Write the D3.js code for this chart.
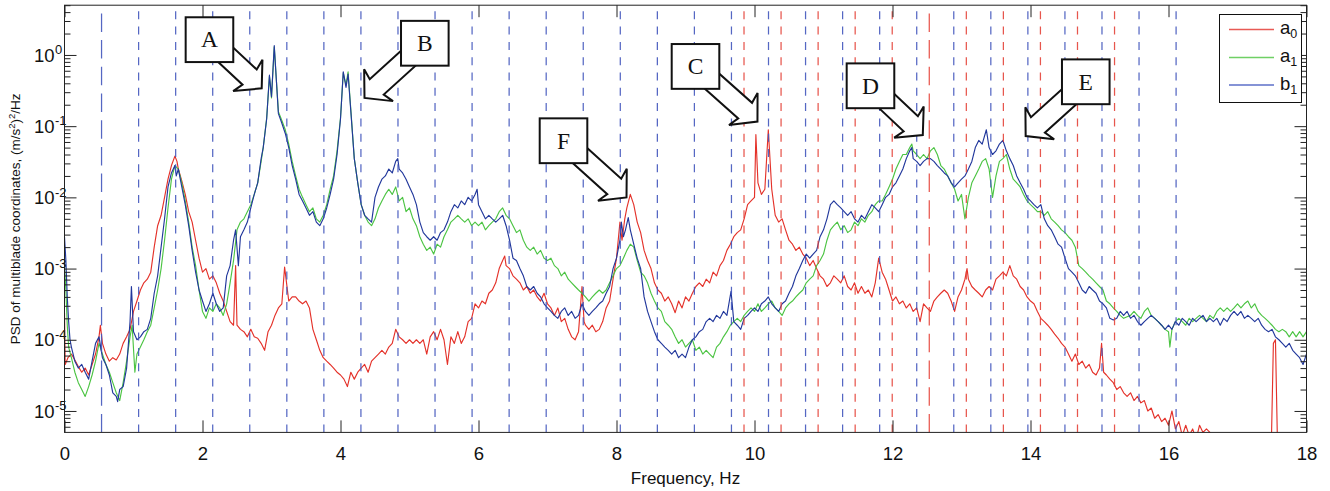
<!DOCTYPE html>
<html>
<head>
<meta charset="utf-8">
<script src="https://cdn.jsdelivr.net/npm/d3@7"></script>
<style>
  body { margin: 0; background: #fff; }
  svg text { fill: #111; }
</style>
</head>
<body>
<svg id="chart" width="1330" height="491"></svg>
<script>
// PSD of the multiblade coordinates: [frequency (Hz), PSD ((m/s^2)^2/Hz)]
const a0Points = [[0,2.4e-4],[0.01,4.5e-5],[0.05,5.6e-5],[0.1,6.3e-5],[0.15,5.2e-5],[0.2,4.2e-5],[0.25,3.5e-5],[0.3,4.0e-5],[0.35,3.2e-5],[0.4,4.5e-5],[0.45,6.3e-5],[0.5,1.1e-4],[0.52,1.6e-4],[0.55,8.9e-5],[0.6,6.3e-5],[0.65,5.0e-5],[0.7,5.6e-5],[0.75,5.2e-5],[0.8,6.3e-5],[0.85,8.9e-5],[0.9,1.1e-4],[0.95,1.4e-4],[1.0,2.5e-4],[1.05,3.5e-4],[1.1,5.0e-4],[1.15,6.3e-4],[1.2,7.1e-4],[1.25,8.9e-4],[1.3,2.0e-3],[1.35,4.0e-3],[1.4,5.6e-3],[1.45,1.0e-2],[1.5,1.8e-2],[1.55,2.8e-2],[1.6,3.8e-2],[1.63,3.2e-2],[1.65,2.5e-2],[1.7,1.7e-2],[1.75,1.1e-2],[1.8,6.3e-3],[1.85,4.5e-3],[1.9,2.5e-3],[1.95,1.4e-3],[2.0,8.9e-4],[2.05,1.0e-3],[2.1,7.1e-4],[2.15,7.9e-4],[2.2,6.3e-4],[2.25,4.5e-4],[2.3,3.5e-4],[2.35,2.5e-4],[2.4,1.8e-4],[2.45,1.6e-4],[2.48,1.1e-3],[2.5,1.6e-4],[2.55,1.4e-4],[2.6,1.3e-4],[2.65,1.1e-4],[2.7,1.4e-4],[2.75,1.1e-4],[2.8,1.05e-4],[2.85,8.9e-5],[2.9,7.1e-5],[2.95,1.3e-4],[3.0,1.6e-4],[3.05,2.2e-4],[3.1,2.8e-4],[3.15,3.2e-4],[3.19,1.05e-3],[3.25,3.5e-4],[3.3,4.0e-4],[3.35,4.0e-4],[3.4,3.5e-4],[3.45,3.2e-4],[3.5,3.5e-4],[3.55,2.8e-4],[3.6,1.4e-4],[3.65,1.0e-4],[3.7,7.1e-5],[3.75,5.6e-5],[3.8,5.0e-5],[3.85,4.5e-5],[3.9,4.0e-5],[3.95,3.5e-5],[4.0,3.2e-5],[4.05,2.8e-5],[4.1,2.2e-5],[4.15,3.5e-5],[4.2,2.8e-5],[4.25,3.5e-5],[4.3,4.0e-5],[4.35,4.5e-5],[4.4,3.5e-5],[4.45,5.0e-5],[4.5,5.6e-5],[4.55,6.3e-5],[4.6,7.1e-5],[4.65,6.3e-5],[4.7,7.9e-5],[4.75,8.9e-5],[4.8,1.4e-4],[4.85,1.1e-4],[4.9,1.0e-4],[4.95,8.9e-5],[5.0,1.0e-4],[5.05,8.9e-5],[5.1,1.0e-4],[5.15,8.9e-5],[5.2,1.0e-4],[5.25,6.3e-5],[5.3,1.1e-4],[5.35,1.3e-4],[5.4,1.0e-4],[5.45,1.4e-4],[5.5,1.0e-4],[5.55,4.5e-5],[5.6,1.1e-4],[5.65,8.9e-5],[5.7,1.3e-4],[5.75,8.9e-5],[5.8,1.1e-4],[5.85,1.8e-4],[5.9,2.0e-4],[5.95,3.2e-4],[6.0,2.8e-4],[6.05,3.5e-4],[6.1,3.2e-4],[6.15,4.5e-4],[6.2,5.0e-4],[6.25,6.3e-4],[6.3,1.0e-3],[6.35,1.3e-3],[6.38,1.5e-3],[6.4,1.1e-3],[6.45,1.0e-3],[6.5,7.9e-4],[6.55,7.1e-4],[6.6,6.3e-4],[6.65,5.0e-4],[6.7,5.6e-4],[6.75,4.5e-4],[6.8,5.0e-4],[6.85,4.0e-4],[6.9,3.5e-4],[6.95,4.5e-4],[7.0,3.2e-4],[7.05,2.8e-4],[7.1,2.2e-4],[7.15,2.8e-4],[7.2,1.8e-4],[7.25,2.0e-4],[7.3,1.4e-4],[7.35,1.1e-4],[7.4,1.0e-4],[7.45,1.3e-4],[7.5,5.6e-4],[7.53,1.8e-4],[7.55,1.6e-4],[7.6,1.4e-4],[7.65,1.6e-4],[7.7,1.3e-4],[7.75,1.4e-4],[7.8,1.8e-4],[7.85,2.8e-4],[7.9,3.5e-4],[7.95,7.1e-4],[8.0,1.4e-3],[8.05,4.5e-3],[8.08,2.5e-3],[8.12,5.0e-3],[8.15,7.1e-3],[8.2,1.1e-2],[8.25,7.9e-3],[8.3,4.5e-3],[8.35,3.2e-3],[8.4,1.8e-3],[8.45,1.3e-3],[8.5,1.0e-3],[8.55,6.3e-4],[8.6,5.0e-4],[8.65,4.5e-4],[8.7,3.5e-4],[8.75,4.0e-4],[8.8,3.2e-4],[8.85,2.4e-4],[8.9,3.5e-4],[8.95,2.8e-4],[9.0,4.0e-4],[9.05,3.5e-4],[9.1,4.5e-4],[9.15,5.6e-4],[9.2,6.3e-4],[9.25,5.6e-4],[9.3,7.1e-4],[9.35,6.3e-4],[9.4,8.9e-4],[9.45,7.9e-4],[9.5,1.1e-3],[9.55,1.3e-3],[9.6,1.8e-3],[9.65,2.2e-3],[9.7,2.8e-3],[9.75,3.2e-3],[9.8,3.5e-3],[9.85,5.0e-3],[9.9,7.9e-3],[9.95,8.9e-3],[10.0,1.0e-2],[10.02,7.6e-2],[10.05,1.6e-2],[10.1,1.1e-2],[10.15,1.3e-2],[10.2,8.9e-2],[10.25,1.3e-2],[10.3,5.6e-3],[10.35,4.5e-3],[10.4,5.0e-3],[10.45,3.5e-3],[10.5,2.5e-3],[10.55,2.2e-3],[10.6,1.8e-3],[10.65,2.0e-3],[10.7,1.6e-3],[10.75,1.4e-3],[10.8,1.1e-3],[10.85,1.3e-3],[10.9,1.0e-3],[10.95,7.9e-4],[11.0,7.1e-4],[11.05,5.6e-4],[11.1,6.3e-4],[11.15,7.9e-4],[11.2,7.1e-4],[11.25,6.3e-4],[11.3,7.9e-4],[11.35,5.6e-4],[11.4,5.0e-4],[11.45,6.3e-4],[11.5,4.5e-4],[11.55,5.6e-4],[11.6,4.5e-4],[11.65,5.0e-4],[11.7,4.0e-4],[11.75,6.3e-4],[11.8,1.4e-3],[11.85,8.9e-4],[11.9,7.1e-4],[11.95,5.0e-4],[12.0,3.5e-4],[12.05,4.0e-4],[12.1,3.2e-4],[12.15,3.5e-4],[12.2,2.8e-4],[12.25,3.2e-4],[12.3,2.5e-4],[12.35,2.8e-4],[12.4,1.8e-4],[12.45,3.2e-4],[12.5,2.8e-4],[12.55,2.5e-4],[12.6,3.5e-4],[12.65,4.0e-4],[12.7,4.5e-4],[12.75,5.0e-4],[12.8,4.5e-4],[12.85,3.5e-4],[12.9,2.5e-4],[12.95,4.0e-4],[13.0,5.0e-4],[13.05,7.1e-4],[13.08,1.0e-3],[13.1,7.1e-4],[13.15,5.6e-4],[13.2,5.0e-4],[13.25,4.5e-4],[13.3,4.0e-4],[13.35,5.0e-4],[13.4,5.6e-4],[13.45,5.0e-4],[13.5,7.1e-4],[13.55,7.9e-4],[13.6,8.9e-4],[13.65,7.9e-4],[13.7,1.1e-3],[13.75,7.9e-4],[13.8,7.1e-4],[13.85,5.6e-4],[13.9,5.0e-4],[13.95,4.0e-4],[14.0,3.5e-4],[14.05,3.2e-4],[14.1,2.5e-4],[14.15,2.0e-4],[14.2,1.8e-4],[14.25,1.6e-4],[14.3,1.4e-4],[14.35,1.2e-4],[14.4,1.05e-4],[14.45,8.9e-5],[14.5,7.9e-5],[14.55,6.3e-5],[14.6,5.0e-5],[14.65,6.3e-5],[14.7,4.5e-5],[14.75,5.0e-5],[14.8,4.0e-5],[14.85,4.5e-5],[14.9,3.5e-5],[14.95,3.2e-5],[15.0,4.0e-5],[15.03,8.9e-5],[15.06,3.5e-5],[15.1,3.2e-5],[15.15,2.8e-5],[15.2,2.5e-5],[15.25,2.0e-5],[15.3,2.2e-5],[15.35,1.8e-5],[15.4,1.6e-5],[15.45,1.8e-5],[15.5,1.4e-5],[15.55,1.6e-5],[15.6,1.3e-5],[15.65,1.4e-5],[15.7,1.0e-5],[15.75,1.1e-5],[15.8,7.9e-6],[15.85,8.9e-6],[15.9,7.1e-6],[15.95,7.9e-6],[16.0,6.3e-6],[16.05,1.0e-5],[16.1,5.6e-6],[16.15,7.1e-6],[16.2,4.5e-6],[16.25,6.3e-6],[16.3,4.5e-6],[16.35,5.6e-6],[16.4,4.0e-6],[16.45,6.3e-6],[16.5,5.0e-6],[16.55,5.6e-6],[16.6,5.0e-6],[16.65,4.0e-6],[16.7,2.5e-6],[17.0,2.0e-6],[17.3,2.5e-6],[17.49,3.2e-6],[17.52,8.9e-5],[17.55,1.0e-4],[17.58,3.2e-6],[18.0,2.0e-6]];

const a1Points = [[0,1.1e-3],[0.02,5.0e-4],[0.04,1.6e-4],[0.06,7.9e-5],[0.1,5.6e-5],[0.15,3.5e-5],[0.2,2.5e-5],[0.25,2.0e-5],[0.3,1.6e-5],[0.35,2.2e-5],[0.4,3.2e-5],[0.45,5.0e-5],[0.5,8.9e-5],[0.55,6.3e-5],[0.6,4.5e-5],[0.65,3.5e-5],[0.7,2.5e-5],[0.75,1.8e-5],[0.8,1.4e-5],[0.85,2.5e-5],[0.9,5.0e-5],[0.95,1.1e-4],[0.98,1.6e-4],[1.02,3.5e-5],[1.05,6.3e-5],[1.1,7.9e-5],[1.15,1.0e-4],[1.2,1.3e-4],[1.25,1.6e-4],[1.3,2.8e-4],[1.35,5.0e-4],[1.4,1.0e-3],[1.45,2.5e-3],[1.5,7.1e-3],[1.55,1.8e-2],[1.6,2.8e-2],[1.65,2.5e-2],[1.7,1.6e-2],[1.75,8.9e-3],[1.8,4.5e-3],[1.85,2.0e-3],[1.9,1.1e-3],[1.95,5.0e-4],[2.0,2.5e-4],[2.05,2.0e-4],[2.1,2.8e-4],[2.15,2.5e-4],[2.2,3.2e-4],[2.25,2.8e-4],[2.3,2.2e-4],[2.35,3.2e-4],[2.4,6.3e-4],[2.45,1.3e-3],[2.5,3.5e-3],[2.55,4.5e-3],[2.6,5.0e-3],[2.65,6.3e-3],[2.7,7.9e-3],[2.75,1.1e-2],[2.8,1.6e-2],[2.85,3.2e-2],[2.88,5.0e-2],[2.93,0.13],[2.97,0.5],[3.0,0.25],[3.04,1.3],[3.07,0.45],[3.1,0.16],[3.15,0.12],[3.2,8.9e-2],[3.25,5.6e-2],[3.3,3.2e-2],[3.35,2.0e-2],[3.4,1.3e-2],[3.45,1.0e-2],[3.5,7.9e-3],[3.55,6.3e-3],[3.6,7.1e-3],[3.65,5.0e-3],[3.7,4.5e-3],[3.75,5.6e-3],[3.8,7.9e-3],[3.85,1.3e-2],[3.9,2.0e-2],[3.95,4.5e-2],[4.0,0.13],[4.04,0.56],[4.08,0.38],[4.11,0.58],[4.15,0.17],[4.2,3.5e-2],[4.25,1.6e-2],[4.3,7.9e-3],[4.35,5.6e-3],[4.4,4.5e-3],[4.45,4.0e-3],[4.5,5.0e-3],[4.55,7.1e-3],[4.6,8.9e-3],[4.65,1.1e-2],[4.7,1.3e-2],[4.75,1.1e-2],[4.8,1.4e-2],[4.85,8.9e-3],[4.9,1.0e-2],[4.95,6.3e-3],[5.0,7.1e-3],[5.05,5.0e-3],[5.1,4.0e-3],[5.15,2.8e-3],[5.2,2.2e-3],[5.25,1.8e-3],[5.3,2.0e-3],[5.35,1.6e-3],[5.4,2.2e-3],[5.45,2.0e-3],[5.5,2.8e-3],[5.55,3.5e-3],[5.6,4.5e-3],[5.65,5.0e-3],[5.7,5.6e-3],[5.75,5.0e-3],[5.8,4.5e-3],[5.85,5.0e-3],[5.9,4.0e-3],[5.95,4.5e-3],[6.0,4.0e-3],[6.05,4.5e-3],[6.1,3.5e-3],[6.15,4.0e-3],[6.2,4.5e-3],[6.25,5.0e-3],[6.3,6.3e-3],[6.35,7.1e-3],[6.4,5.6e-3],[6.45,5.0e-3],[6.5,4.0e-3],[6.55,3.2e-3],[6.6,3.5e-3],[6.65,2.5e-3],[6.7,2.0e-3],[6.75,1.8e-3],[6.8,2.0e-3],[6.85,1.6e-3],[6.9,1.8e-3],[6.95,1.4e-3],[7.0,1.3e-3],[7.05,1.4e-3],[7.1,1.1e-3],[7.15,1.0e-3],[7.2,7.9e-4],[7.25,8.9e-4],[7.3,7.1e-4],[7.35,6.3e-4],[7.4,5.6e-4],[7.45,5.0e-4],[7.5,4.5e-4],[7.55,4.0e-4],[7.6,3.5e-4],[7.65,4.0e-4],[7.7,4.5e-4],[7.75,5.0e-4],[7.8,4.5e-4],[7.85,5.0e-4],[7.9,6.3e-4],[7.95,7.9e-4],[8.0,1.0e-3],[8.05,1.1e-3],[8.1,1.4e-3],[8.15,1.8e-3],[8.2,2.2e-3],[8.25,2.0e-3],[8.3,1.3e-3],[8.35,8.9e-4],[8.4,7.9e-4],[8.45,6.3e-4],[8.5,4.5e-4],[8.55,3.5e-4],[8.6,2.8e-4],[8.65,2.5e-4],[8.7,1.8e-4],[8.75,1.6e-4],[8.8,1.4e-4],[8.85,1.1e-4],[8.9,8.9e-5],[8.95,1.0e-4],[9.0,7.9e-5],[9.05,8.9e-5],[9.1,1.0e-4],[9.15,7.1e-5],[9.2,7.9e-5],[9.25,6.3e-5],[9.3,7.1e-5],[9.35,6.3e-5],[9.4,5.6e-5],[9.45,7.9e-5],[9.5,8.9e-5],[9.55,1.1e-4],[9.6,1.3e-4],[9.65,1.6e-4],[9.7,1.8e-4],[9.75,2.0e-4],[9.8,1.8e-4],[9.85,2.2e-4],[9.9,2.5e-4],[9.95,2.8e-4],[10.0,2.5e-4],[10.05,3.2e-4],[10.1,2.5e-4],[10.15,2.8e-4],[10.2,3.2e-4],[10.25,3.5e-4],[10.3,2.8e-4],[10.35,2.5e-4],[10.4,2.2e-4],[10.45,2.8e-4],[10.5,3.2e-4],[10.55,3.5e-4],[10.6,4.0e-4],[10.65,4.5e-4],[10.7,5.0e-4],[10.75,6.3e-4],[10.8,7.1e-4],[10.85,7.9e-4],[10.9,1.1e-3],[10.95,1.3e-3],[11.0,1.6e-3],[11.05,2.5e-3],[11.1,3.5e-3],[11.15,4.0e-3],[11.2,4.5e-3],[11.25,3.5e-3],[11.3,4.0e-3],[11.35,3.2e-3],[11.4,3.5e-3],[11.45,4.5e-3],[11.5,4.0e-3],[11.55,5.0e-3],[11.6,4.5e-3],[11.65,5.6e-3],[11.7,6.3e-3],[11.75,7.9e-3],[11.8,8.9e-3],[11.85,8.9e-3],[11.9,1.1e-2],[11.95,1.4e-2],[12.0,1.8e-2],[12.05,2.5e-2],[12.1,3.2e-2],[12.15,4.0e-2],[12.2,4.0e-2],[12.25,5.0e-2],[12.28,5.6e-2],[12.3,4.5e-2],[12.35,4.0e-2],[12.4,3.5e-2],[12.45,4.0e-2],[12.5,3.5e-2],[12.55,4.5e-2],[12.6,5.0e-2],[12.65,4.0e-2],[12.7,2.8e-2],[12.75,2.5e-2],[12.8,2.0e-2],[12.85,1.6e-2],[12.9,1.3e-2],[12.95,8.9e-3],[13.0,1.1e-2],[13.05,5.0e-3],[13.1,1.0e-2],[13.15,1.6e-2],[13.2,2.0e-2],[13.25,2.5e-2],[13.3,3.2e-2],[13.35,3.5e-2],[13.4,2.5e-2],[13.45,1.0e-2],[13.5,2.0e-2],[13.55,3.2e-2],[13.6,3.5e-2],[13.65,4.0e-2],[13.7,2.5e-2],[13.75,1.8e-2],[13.8,1.6e-2],[13.85,1.4e-2],[13.9,1.1e-2],[13.95,8.9e-3],[14.0,7.9e-3],[14.05,7.1e-3],[14.1,6.3e-3],[14.15,6.3e-3],[14.2,5.6e-3],[14.25,6.3e-3],[14.3,5.0e-3],[14.35,4.5e-3],[14.4,4.0e-3],[14.45,3.5e-3],[14.5,3.2e-3],[14.55,2.8e-3],[14.6,2.5e-3],[14.65,2.0e-3],[14.7,1.1e-3],[14.75,1.0e-3],[14.8,8.9e-4],[14.85,7.9e-4],[14.9,7.1e-4],[14.95,6.3e-4],[15.0,5.6e-4],[15.05,5.0e-4],[15.1,3.5e-4],[15.15,3.2e-4],[15.2,2.8e-4],[15.25,2.5e-4],[15.3,2.2e-4],[15.35,2.0e-4],[15.4,2.1e-4],[15.45,2.2e-4],[15.5,2.5e-4],[15.55,2.2e-4],[15.6,2.0e-4],[15.65,2.5e-4],[15.7,2.8e-4],[15.75,2.2e-4],[15.8,2.0e-4],[15.85,1.8e-4],[15.9,1.6e-4],[15.95,1.4e-4],[16.0,1.3e-4],[16.02,7.9e-5],[16.05,1.4e-4],[16.1,1.8e-4],[16.15,2.0e-4],[16.2,1.8e-4],[16.25,1.6e-4],[16.3,2.0e-4],[16.35,1.8e-4],[16.4,2.0e-4],[16.45,2.2e-4],[16.5,2.0e-4],[16.55,1.8e-4],[16.6,2.2e-4],[16.65,2.0e-4],[16.7,2.5e-4],[16.75,2.8e-4],[16.8,2.5e-4],[16.85,2.8e-4],[16.9,2.5e-4],[16.95,2.8e-4],[17.0,3.2e-4],[17.05,2.8e-4],[17.1,3.2e-4],[17.15,3.5e-4],[17.2,2.8e-4],[17.25,3.2e-4],[17.3,2.5e-4],[17.35,2.2e-4],[17.4,2.0e-4],[17.45,1.8e-4],[17.5,1.6e-4],[17.55,1.4e-4],[17.6,1.3e-4],[17.65,1.4e-4],[17.7,1.3e-4],[17.75,1.1e-4],[17.8,1.3e-4],[17.85,1.1e-4],[17.9,1.3e-4],[17.95,1.1e-4],[18.0,1.3e-4]];

const b1Points = [[0,2.8e-3],[0.02,1.3e-3],[0.04,4.0e-4],[0.06,1.8e-4],[0.08,1.0e-4],[0.1,7.9e-5],[0.15,5.0e-5],[0.2,4.0e-5],[0.25,4.5e-5],[0.3,3.5e-5],[0.35,2.8e-5],[0.4,5.0e-5],[0.45,8.9e-5],[0.5,1.1e-4],[0.55,5.6e-5],[0.6,4.5e-5],[0.65,3.2e-5],[0.7,1.8e-5],[0.75,1.6e-5],[0.77,1.35e-5],[0.8,2.0e-5],[0.85,2.2e-5],[0.9,4.0e-5],[0.95,1.8e-4],[0.97,5.6e-4],[1.0,1.3e-4],[1.05,1.0e-4],[1.1,1.1e-4],[1.15,1.3e-4],[1.2,1.4e-4],[1.25,2.0e-4],[1.3,4.5e-4],[1.35,7.9e-4],[1.4,2.0e-3],[1.45,5.0e-3],[1.5,1.4e-2],[1.55,2.2e-2],[1.6,2.8e-2],[1.62,2.0e-2],[1.65,2.5e-2],[1.7,1.4e-2],[1.75,7.9e-3],[1.8,4.0e-3],[1.85,1.8e-3],[1.9,8.9e-4],[1.95,5.0e-4],[2.0,3.5e-4],[2.05,2.5e-4],[2.1,3.2e-4],[2.15,4.5e-4],[2.2,3.2e-4],[2.25,2.5e-4],[2.3,2.8e-4],[2.35,7.9e-4],[2.4,1.1e-3],[2.45,2.5e-3],[2.48,3.5e-3],[2.52,1.1e-3],[2.55,2.8e-3],[2.6,3.5e-3],[2.65,4.5e-3],[2.7,7.1e-3],[2.75,1.1e-2],[2.8,1.6e-2],[2.85,3.5e-2],[2.88,5.0e-2],[2.93,0.126],[2.97,0.52],[3.0,0.26],[3.04,1.35],[3.07,0.45],[3.1,0.15],[3.15,0.11],[3.2,7.9e-2],[3.25,5.0e-2],[3.3,2.8e-2],[3.35,1.8e-2],[3.4,1.1e-2],[3.45,8.9e-3],[3.5,7.1e-3],[3.55,5.6e-3],[3.6,6.3e-3],[3.65,4.5e-3],[3.7,4.0e-3],[3.75,5.0e-3],[3.8,7.1e-3],[3.85,1.1e-2],[3.9,1.8e-2],[3.95,4.0e-2],[4.0,0.126],[4.04,0.58],[4.08,0.35],[4.11,0.54],[4.15,0.16],[4.2,3.5e-2],[4.25,1.6e-2],[4.3,7.9e-3],[4.35,5.6e-3],[4.4,5.0e-3],[4.45,4.5e-3],[4.5,1.0e-2],[4.55,1.4e-2],[4.6,1.8e-2],[4.65,2.0e-2],[4.7,2.5e-2],[4.75,2.2e-2],[4.8,3.2e-2],[4.83,3.5e-2],[4.85,2.5e-2],[4.9,2.2e-2],[4.95,1.8e-2],[5.0,1.4e-2],[5.05,1.1e-2],[5.1,7.9e-3],[5.15,4.5e-3],[5.2,3.2e-3],[5.25,2.8e-3],[5.3,2.5e-3],[5.35,2.8e-3],[5.4,2.5e-3],[5.45,3.2e-3],[5.5,3.5e-3],[5.55,4.5e-3],[5.6,6.3e-3],[5.65,7.9e-3],[5.7,7.1e-3],[5.75,8.9e-3],[5.8,7.9e-3],[5.85,1.0e-2],[5.9,8.9e-3],[5.95,1.1e-2],[5.98,1.3e-2],[6.0,7.9e-3],[6.05,6.3e-3],[6.1,5.0e-3],[6.15,5.6e-3],[6.2,5.0e-3],[6.25,4.5e-3],[6.3,5.0e-3],[6.35,5.6e-3],[6.4,4.0e-3],[6.45,2.5e-3],[6.5,1.4e-3],[6.55,1.3e-3],[6.6,1.0e-3],[6.65,7.9e-4],[6.7,5.6e-4],[6.75,5.0e-4],[6.8,5.6e-4],[6.85,4.5e-4],[6.9,4.0e-4],[6.95,3.2e-4],[7.0,2.8e-4],[7.05,2.5e-4],[7.1,2.2e-4],[7.15,2.0e-4],[7.2,2.5e-4],[7.25,2.8e-4],[7.3,2.2e-4],[7.35,2.5e-4],[7.4,2.0e-4],[7.45,2.2e-4],[7.5,3.2e-4],[7.55,2.5e-4],[7.6,2.2e-4],[7.65,2.5e-4],[7.7,2.8e-4],[7.75,3.2e-4],[7.8,3.5e-4],[7.85,4.5e-4],[7.9,5.6e-4],[7.95,1.0e-3],[8.0,1.4e-3],[8.05,2.5e-3],[8.07,4.5e-3],[8.1,2.8e-3],[8.13,3.5e-3],[8.17,5.2e-3],[8.2,3.5e-3],[8.25,2.2e-3],[8.3,1.4e-3],[8.35,1.0e-3],[8.4,4.0e-4],[8.45,2.5e-4],[8.5,1.8e-4],[8.55,1.3e-4],[8.6,1.0e-4],[8.65,8.9e-5],[8.7,7.9e-5],[8.75,7.1e-5],[8.8,6.3e-5],[8.85,7.1e-5],[8.9,5.6e-5],[8.95,6.3e-5],[9.0,5.6e-5],[9.05,7.9e-5],[9.1,1.0e-4],[9.15,1.1e-4],[9.2,1.3e-4],[9.25,1.4e-4],[9.3,1.8e-4],[9.35,2.0e-4],[9.4,1.8e-4],[9.45,2.2e-4],[9.5,2.0e-4],[9.55,2.5e-4],[9.6,2.2e-4],[9.66,4.8e-4],[9.7,1.8e-4],[9.75,1.6e-4],[9.8,1.4e-4],[9.85,2.0e-4],[9.9,2.2e-4],[9.95,2.5e-4],[10.0,2.8e-4],[10.05,2.5e-4],[10.1,3.2e-4],[10.15,3.5e-4],[10.2,4.0e-4],[10.25,3.2e-4],[10.3,2.8e-4],[10.35,2.5e-4],[10.4,3.2e-4],[10.45,3.5e-4],[10.5,4.5e-4],[10.55,5.6e-4],[10.6,7.9e-4],[10.65,1.0e-3],[10.7,1.3e-3],[10.75,1.6e-3],[10.8,1.4e-3],[10.85,1.6e-3],[10.9,1.8e-3],[10.95,2.8e-3],[11.0,3.5e-3],[11.05,5.0e-3],[11.1,7.9e-3],[11.15,8.9e-3],[11.2,7.9e-3],[11.25,7.1e-3],[11.3,6.3e-3],[11.35,5.6e-3],[11.4,6.3e-3],[11.45,5.0e-3],[11.5,4.5e-3],[11.55,5.6e-3],[11.6,5.0e-3],[11.65,6.3e-3],[11.7,7.9e-3],[11.75,7.1e-3],[11.8,6.3e-3],[11.85,7.9e-3],[11.9,1.0e-2],[11.95,1.1e-2],[12.0,1.4e-2],[12.05,1.6e-2],[12.1,2.0e-2],[12.15,2.5e-2],[12.2,3.5e-2],[12.25,4.5e-2],[12.28,5.0e-2],[12.3,3.5e-2],[12.35,3.2e-2],[12.4,2.8e-2],[12.45,3.2e-2],[12.5,3.5e-2],[12.55,3.5e-2],[12.6,3.2e-2],[12.65,2.8e-2],[12.7,2.5e-2],[12.75,2.2e-2],[12.8,2.0e-2],[12.85,1.6e-2],[12.9,1.4e-2],[12.95,1.6e-2],[13.0,1.8e-2],[13.05,2.0e-2],[13.1,2.5e-2],[13.15,3.2e-2],[13.2,5.0e-2],[13.25,6.3e-2],[13.3,5.6e-2],[13.36,8.9e-2],[13.4,5.0e-2],[13.45,4.0e-2],[13.5,4.5e-2],[13.55,5.6e-2],[13.6,6.3e-2],[13.65,4.5e-2],[13.7,3.5e-2],[13.75,2.8e-2],[13.8,2.0e-2],[13.85,1.6e-2],[13.9,1.3e-2],[13.95,1.0e-2],[14.0,8.9e-3],[14.05,7.9e-3],[14.1,7.1e-3],[14.15,7.9e-3],[14.2,5.0e-3],[14.25,4.0e-3],[14.3,3.5e-3],[14.35,2.8e-3],[14.4,2.2e-3],[14.45,2.0e-3],[14.5,1.4e-3],[14.55,1.0e-3],[14.6,8.9e-4],[14.65,7.9e-4],[14.7,6.3e-4],[14.75,5.0e-4],[14.8,4.5e-4],[14.85,5.6e-4],[14.9,5.0e-4],[14.95,4.5e-4],[15.0,3.5e-4],[15.05,3.2e-4],[15.1,2.8e-4],[15.15,2.0e-4],[15.2,1.9e-4],[15.25,2.0e-4],[15.3,2.5e-4],[15.35,2.2e-4],[15.4,2.5e-4],[15.45,2.0e-4],[15.5,2.2e-4],[15.55,1.8e-4],[15.6,1.6e-4],[15.65,1.8e-4],[15.7,2.0e-4],[15.75,2.2e-4],[15.8,2.0e-4],[15.85,1.8e-4],[15.9,1.6e-4],[15.95,1.4e-4],[16.0,1.6e-4],[16.05,1.4e-4],[16.1,1.8e-4],[16.15,1.6e-4],[16.2,2.0e-4],[16.25,1.8e-4],[16.3,1.6e-4],[16.35,2.0e-4],[16.4,1.8e-4],[16.45,2.0e-4],[16.5,2.2e-4],[16.55,1.8e-4],[16.6,2.0e-4],[16.65,1.8e-4],[16.7,2.0e-4],[16.75,1.6e-4],[16.8,2.0e-4],[16.85,1.8e-4],[16.9,2.2e-4],[16.95,2.5e-4],[17.0,2.2e-4],[17.05,2.5e-4],[17.1,2.0e-4],[17.15,2.2e-4],[17.2,2.0e-4],[17.25,1.8e-4],[17.3,2.0e-4],[17.35,1.6e-4],[17.4,1.4e-4],[17.45,1.3e-4],[17.5,1.4e-4],[17.55,1.1e-4],[17.6,1.0e-4],[17.65,8.9e-5],[17.7,7.9e-5],[17.75,8.9e-5],[17.8,7.1e-5],[17.85,6.3e-5],[17.9,5.6e-5],[17.95,4.5e-5],[18.0,6.3e-5]];

// Vertical reference lines (Hz): rotor harmonics (blue) and the red family
const harmonicFreqs = [0.537,1.074,1.611,2.148,2.685,3.222,3.759,4.296,4.833,5.37,5.907,6.444,6.981,7.518,8.055,8.592,9.129,9.666,10.203,10.74,11.277,11.814,12.351,12.888,13.425,13.962,14.499,15.036,15.573,16.11];
const redLineFreqs = [9.848,10.385,10.922,11.459,11.996,12.533,13.07,13.607,14.144,14.681,15.218];
const longDashFreqs = [0.537, 12.533];

// Axes
const xTickValues = [0,2,4,6,8,10,12,14,16,18];
const xTickLabels = ["0","2","4","6","8","10","12","14","16","18"];
const yTickValues = [1e-5,1e-4,1e-3,1e-2,1e-1,1];
const yTickExponents = ["-5","-4","-3","-2","-1","0"];

// Legend
const seriesNames = ["a", "a", "b"];
const seriesSubscripts = ["0", "1", "1"];
const seriesColors = ["#e4322a", "#4cc443", "#22389c"];
const legendColors = ["#e85a55", "#6fd065", "#5d6fc8"];

// Callout boxes: box centre and arrow tip, in data units (Hz, PSD)
const callouts = [
  { label: "A", box: [2.101, 1.64],  tip: [2.858, 0.34] },
  { label: "B", box: [5.222, 1.46],  tip: [4.348, 0.249] },
  { label: "C", box: [9.145, 0.69],  tip: [10.043, 0.116] },
  { label: "D", box: [11.681, 0.369], tip: [12.439, 0.075] },
  { label: "E", box: [14.801, 0.42], tip: [13.93, 0.0728] },
  { label: "F", box: [7.232, 0.0624], tip: [8.145, 0.00997] }
];

(function drawChart() {
  const sansFont = "'Liberation Sans', Arial, Helvetica, sans-serif";
  const serifFont = "'Liberation Serif', 'Times New Roman', serif";
  const svg = d3.select("#chart").style("font-family", sansFont);
  const plotLeft = 64.5, plotRight = 1306.5, plotTop = 5.2, plotBottom = 432.4;

  const xScale = d3.scaleLinear().domain([0, 18]).range([plotLeft, plotRight]);
  const yScale = d3.scaleLog().domain([5e-6, 5]).range([plotBottom, plotTop]);

  svg.append("defs").append("clipPath").attr("id", "plotClip")
    .append("rect").attr("x", plotLeft).attr("y", plotTop)
    .attr("width", plotRight - plotLeft).attr("height", plotBottom - plotTop);

  const plot = svg.append("g").attr("clip-path", "url(#plotClip)");

  // PSD curves
  const line = d3.line().x(d => xScale(d[0])).y(d => yScale(d[1]));
  [a0Points, a1Points, b1Points].forEach((pts, i) => {
    plot.append("path").datum(pts)
      .attr("d", line)
      .attr("fill", "none")
      .attr("stroke", seriesColors[i])
      .attr("stroke-width", 1.15)
      .attr("stroke-linejoin", "round");
  });

  // dashed reference lines
  function refLines(freqs, color) {
    plot.append("g").selectAll("line").data(freqs).join("line")
      .attr("x1", d => xScale(d)).attr("x2", d => xScale(d))
      .attr("y1", plotBottom).attr("y2", plotTop)
      .attr("stroke", color)
      .attr("stroke-width", 1.25)
      .attr("stroke-opacity", 0.9)
      .attr("stroke-dasharray", d => longDashFreqs.includes(d) ? "18.5,8.2" : "8,7.3");
  }
  refLines(harmonicFreqs, "#4356bd");
  refLines(redLineFreqs, "#e4443a");

  // axes: ticks point inward on all four sides
  const axisColor = "#222";
  function styleAxis(g) {
    g.select(".domain").remove();
    g.selectAll(".tick line").attr("stroke", axisColor).attr("stroke-width", 1);
  }
  svg.append("g").attr("transform", `translate(0,${plotBottom})`)
    .call(d3.axisBottom(xScale).tickValues(xTickValues).tickSize(-12).tickPadding(14.5)
      .tickFormat((d, i) => xTickLabels[i]))
    .call(styleAxis)
    .call(g => g.selectAll(".tick text").attr("font-size", 18.5)
      .style("font-family", sansFont).attr("fill", "#111"));
  svg.append("g").attr("transform", `translate(0,${plotTop})`)
    .call(d3.axisTop(xScale).tickValues(xTickValues).tickSize(-12).tickFormat(""))
    .call(styleAxis);

  const yMinor = [];
  for (let e = -6; e <= 0; e++) {
    for (let m = 2; m <= 9; m++) {
      const v = m * Math.pow(10, e);
      if (v >= 5e-6 && v <= 5) yMinor.push(v);
    }
  }
  [[d3.axisLeft, plotLeft], [d3.axisRight, plotRight]].forEach(([axisFn, xPos]) => {
    svg.append("g").attr("transform", `translate(${xPos},0)`)
      .call(axisFn(yScale).tickValues(yTickValues).tickSize(-12).tickFormat(""))
      .call(styleAxis);
    svg.append("g").attr("transform", `translate(${xPos},0)`)
      .call(axisFn(yScale).tickValues(yMinor).tickSize(-6).tickFormat(""))
      .call(styleAxis);
  });

  // y tick labels as 10 with superscript exponent
  const yLab = svg.append("g");
  yTickValues.forEach((v, i) => {
    const yy = yScale(v);
    yLab.append("text").attr("x", 54.5).attr("y", yy + 6.7)
      .attr("text-anchor", "end").attr("font-size", 18.5).text("10");
    yLab.append("text").attr("x", 55).attr("y", yy - 0.7)
      .attr("text-anchor", "start").attr("font-size", 13).text(yTickExponents[i]);
  });

  // frame
  svg.append("rect").attr("x", plotLeft).attr("y", plotTop)
    .attr("width", plotRight - plotLeft).attr("height", plotBottom - plotTop)
    .attr("fill", "none").attr("stroke", axisColor).attr("stroke-width", 1);

  // axis titles
  svg.append("text").attr("x", (plotLeft + plotRight) / 2).attr("y", 484)
    .attr("text-anchor", "middle").attr("font-size", 17).text("Frequency, Hz");

  const yTitle = svg.append("text")
    .attr("transform", `translate(20,${(plotTop + plotBottom) / 2}) rotate(-90)`)
    .attr("text-anchor", "middle").attr("font-size", 13.5);
  yTitle.append("tspan").text("PSD of multiblade coordinates, (m/s");
  yTitle.append("tspan").attr("font-size", 9.5).attr("dy", -5).text("2");
  yTitle.append("tspan").attr("dy", 5).text(")");
  yTitle.append("tspan").attr("font-size", 9.5).attr("dy", -5).text("2");
  yTitle.append("tspan").attr("dy", 5).text("/Hz");

  // callouts: outlined block arrow under a labelled box
  const calloutLayer = svg.append("g");
  const shaftHalf = 10.4, headHalf = 21.5, headLen = 16.5, sweep = 2.5;
  callouts.forEach(c => {
    const cx = xScale(c.box[0]), cy = yScale(c.box[1]);
    const tx = xScale(c.tip[0]), ty = yScale(c.tip[1]);
    const len = Math.hypot(tx - cx, ty - cy);
    const ux = (tx - cx) / len, uy = (ty - cy) / len;
    const nx = -uy, ny = ux;
    const bx = tx - headLen * ux, by = ty - headLen * uy;
    const sx = tx - (headLen + sweep) * ux, sy = ty - (headLen + sweep) * uy;
    const pts = [
      [cx + shaftHalf * nx, cy + shaftHalf * ny],
      [bx + shaftHalf * nx, by + shaftHalf * ny],
      [sx + headHalf * nx, sy + headHalf * ny],
      [tx, ty],
      [sx - headHalf * nx, sy - headHalf * ny],
      [bx - shaftHalf * nx, by - shaftHalf * ny],
      [cx - shaftHalf * nx, cy - shaftHalf * ny]
    ];
    calloutLayer.append("polygon")
      .attr("points", pts.map(p => p.join(",")).join(" "))
      .attr("fill", "#fff").attr("stroke", "#111").attr("stroke-width", 2)
      .attr("stroke-linejoin", "miter");
    calloutLayer.append("rect")
      .attr("x", cx - 23.8).attr("y", cy - 22.4)
      .attr("width", 47.6).attr("height", 44.8)
      .attr("fill", "#fff").attr("stroke", "#111").attr("stroke-width", 2);
    calloutLayer.append("text")
      .attr("x", cx).attr("y", cy + 7.8)
      .attr("text-anchor", "middle")
      .style("font-family", serifFont)
      .attr("font-size", 23.5).text(c.label);
  });

  // legend
  const legend = svg.append("g");
  legend.append("rect").attr("x", 1219.5).attr("y", 14.5).attr("width", 82).attr("height", 88)
    .attr("fill", "#fff").attr("stroke", "#111").attr("stroke-width", 1);
  const legendY = [29.5, 57.5, 85];
  seriesNames.forEach((name, i) => {
    legend.append("line").attr("x1", 1229).attr("x2", 1274)
      .attr("y1", legendY[i]).attr("y2", legendY[i])
      .attr("stroke", legendColors[i]).attr("stroke-width", 1.3);
    const t = legend.append("text").attr("x", 1280).attr("y", legendY[i] + 4.8)
      .attr("font-size", 18.5);
    t.append("tspan").text(name);
    t.append("tspan").attr("font-size", 12.5).attr("dy", 4).text(seriesSubscripts[i]);
  });
})();
</script>
</body>
</html>
